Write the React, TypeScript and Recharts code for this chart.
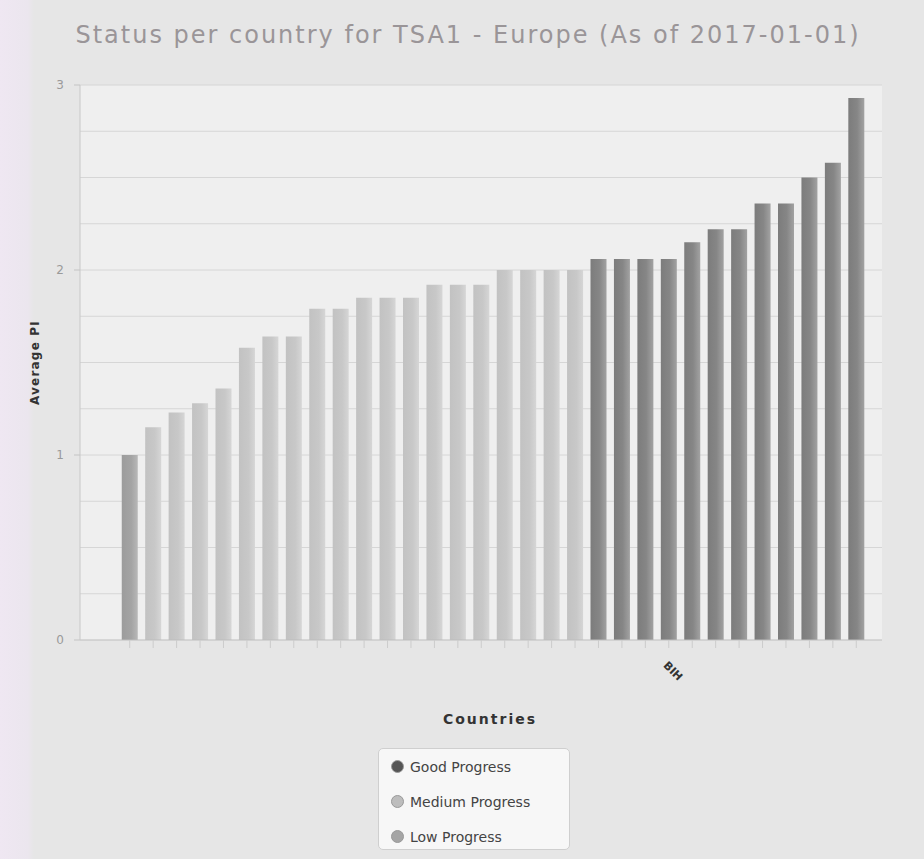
import React from 'react';
import { BarChart, Bar, XAxis, YAxis, CartesianGrid, Legend, Label } from 'recharts';

const countryKeys = [
  'C01','C02','C03','C04','C05','C06','C07','C08','C09','C10','C11','C12','C13','C14','C15','C16',
  'C17','C18','C19','C20','C21','C22','C23','C24','C25','C26','C27','C28','C29','C30','C31','C32',
];
const tickLabels = [
  '','','','','','','','','','','','','','','','',
  '','','','','','','','BIH','','','','','','','','',
];
const averagePI = [
  1.0, 1.15, 1.23, 1.28, 1.36, 1.58, 1.64, 1.64, 1.79, 1.79, 1.85, 1.85, 1.85, 1.92, 1.92, 1.92,
  2.0, 2.0, 2.0, 2.0, 2.06, 2.06, 2.06, 2.06, 2.15, 2.22, 2.22, 2.36, 2.36, 2.5, 2.58, 2.93,
];
const status = [
  'low','medium','medium','medium','medium','medium','medium','medium','medium','medium','medium','medium','medium','medium','medium','medium',
  'medium','medium','medium','medium','good','good','good','good','good','good','good','good','good','good','good','good',
];
const yTicks = [0, 1, 2, 3];
const gridValues = [0.25, 0.5, 0.75, 1, 1.25, 1.5, 1.75, 2, 2.25, 2.5, 2.75, 3];

const seriesDefs = [
  { key: 'good', name: 'Good Progress', fill: 'url(#gGood)', swatch: '#555' },
  { key: 'medium', name: 'Medium Progress', fill: 'url(#gMedium)', swatch: '#bdbdbd' },
  { key: 'low', name: 'Low Progress', fill: 'url(#gLow)', swatch: '#a5a5a5' },
];

const data = countryKeys.map((k, i) => ({
  country: k,
  label: tickLabels[i],
  good: status[i] === 'good' ? averagePI[i] : null,
  medium: status[i] === 'medium' ? averagePI[i] : null,
  low: status[i] === 'low' ? averagePI[i] : null,
}));

const FONT = '"DejaVu Sans", Verdana, sans-serif';

const CountryTick = (props: any) => {
  const { x, y, index } = props;
  const text = tickLabels[index] ?? '';
  if (!text) return null;
  return (
    <text
      x={x - 6}
      y={y + 16}
      transform={`rotate(45, ${x - 6}, ${y + 16})`}
      textAnchor="start"
      fontFamily={FONT}
      fontSize={11}
      fontWeight="bold"
      fill="#333"
    >
      {text}
    </text>
  );
};

const LegendBox = () => (
  <div
    style={{
      width: 192,
      height: 102,
      background: '#f7f7f7',
      border: '1px solid #cfcfcf',
      borderRadius: 5,
      boxSizing: 'border-box',
      padding: '0 0 0 12px',
      fontFamily: FONT,
      fontSize: 14,
      color: '#444',
    }}
  >
    {seriesDefs.map((s) => (
      <div key={s.key} style={{ display: 'flex', alignItems: 'center', height: 35 }}>
        <span
          style={{
            display: 'inline-block',
            width: 11,
            height: 11,
            borderRadius: '50%',
            background: s.swatch,
            marginRight: 6,
            border: '1px solid #999',
          }}
        />
        <span>{s.name}</span>
      </div>
    ))}
  </div>
);

export default function App() {
  return (
    <div
      style={{
        position: 'absolute',
        left: 0,
        top: 0,
        width: 924,
        height: 859,
        background: 'linear-gradient(to right, #efe7f2 0px, #ebe6ee 28px, #e6e6e6 34px, #e6e6e6 100%)',
        overflow: 'hidden',
      }}
    >
      <div
        style={{
          position: 'absolute',
          left: 0,
          top: 21,
          width: 936,
          textAlign: 'center',
          fontFamily: FONT,
          fontSize: 24,
          letterSpacing: 2,
          color: '#9a9598',
          whiteSpace: 'nowrap',
        }}
      >
        Status per country for TSA1 - Europe (As of 2017-01-01)
      </div>
      <BarChart
        width={924}
        height={859}
        data={data}
        margin={{ top: 85, right: 42, bottom: 27, left: 0 }}
        barCategoryGap="16%"
        style={{ position: 'absolute', left: 0, top: 0 }}
      >
        <defs>
          <linearGradient id="gGood" x1="0" y1="0" x2="1" y2="0">
            <stop offset="0%" stopColor="#7c7c7c" />
            <stop offset="55%" stopColor="#868686" />
            <stop offset="100%" stopColor="#a2a2a2" />
          </linearGradient>
          <linearGradient id="gMedium" x1="0" y1="0" x2="1" y2="0">
            <stop offset="0%" stopColor="#c2c2c2" />
            <stop offset="60%" stopColor="#c8c8c8" />
            <stop offset="100%" stopColor="#d6d6d6" />
          </linearGradient>
          <linearGradient id="gLow" x1="0" y1="0" x2="1" y2="0">
            <stop offset="0%" stopColor="#9c9c9c" />
            <stop offset="60%" stopColor="#a4a4a4" />
            <stop offset="100%" stopColor="#b8b8b8" />
          </linearGradient>
        </defs>
        <CartesianGrid
          vertical={false}
          horizontalValues={gridValues}
          stroke="#d6d6d6"
          fill="#efefef"
        />
        <XAxis
          dataKey="country"
          height={90}
          padding={{ left: 38, right: 14 }}
          interval={0}
          tick={<CountryTick />}
          tickLine={{ stroke: '#cccccc' }}
          tickSize={8}
          axisLine={{ stroke: '#bdbdbd' }}
        >
          <Label
            value="Countries"
            position="insideBottom"
            offset={6}
            dx={9}
            style={{ fontFamily: FONT, fontSize: 14, fontWeight: 'bold', fill: '#333', letterSpacing: 2 }}
          />
        </XAxis>
        <YAxis
          width={80}
          domain={[0, 3]}
          ticks={yTicks}
          tickSize={6}
          tickMargin={10}
          tickLine={{ stroke: '#c4c4c4' }}
          axisLine={{ stroke: '#c8c8c8' }}
          tick={{ fontFamily: FONT, fontSize: 12, fill: '#9a9a9a' }}
        >
          <Label
            value="Average PI"
            angle={-90}
            position="center"
            dx={-5}
            style={{ fontFamily: FONT, fontSize: 12, fontWeight: 'bold', fill: '#333', letterSpacing: 1.2, textAnchor: 'middle' }}
          />
        </YAxis>
        <Legend
          content={<LegendBox />}
          wrapperStyle={{ position: 'absolute', left: 378, top: 748, width: 192, bottom: 'auto' }}
        />
        {seriesDefs.map((s) => (
          <Bar
            key={s.key}
            dataKey={s.key}
            name={s.name}
            stackId="a"
            fill={s.fill}
            isAnimationActive={false}
          />
        ))}
      </BarChart>
    </div>
  );
}
